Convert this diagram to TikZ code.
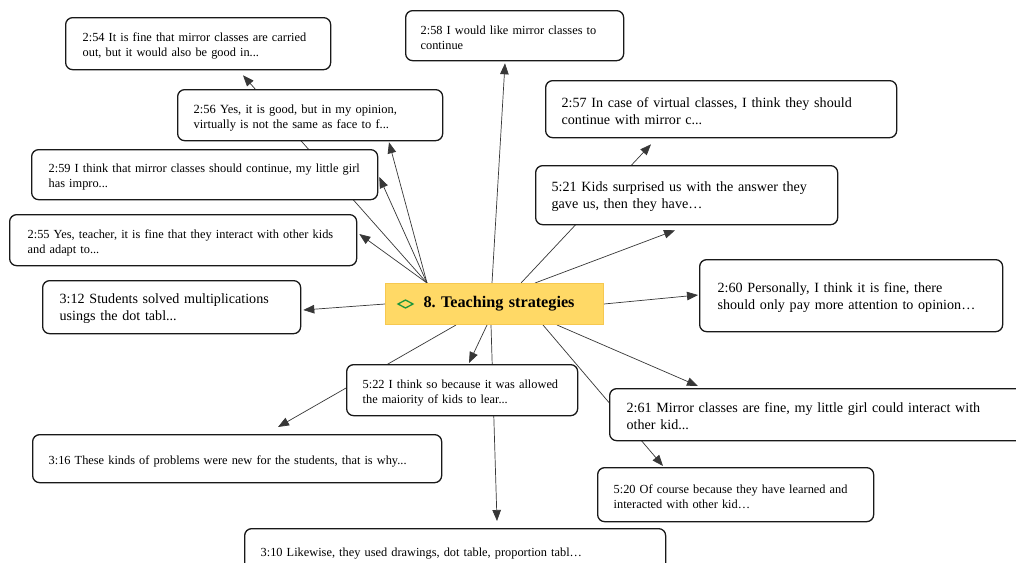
\documentclass[tikz,border=0pt]{standalone}
\usepackage{fontspec}
\setmainfont{Liberation Serif}
\usetikzlibrary{arrows.meta,calc}
\pgfdeclarelayer{paper}
\pgfdeclarelayer{links}
\pgfsetlayers{paper,links,main}

\definecolor{boxline}{RGB}{25,25,25}
\definecolor{linkline}{RGB}{55,55,55}
\definecolor{hubfill}{RGB}{255,217,102}
\definecolor{hubline}{RGB}{246,200,80}
\definecolor{codegreen}{RGB}{30,150,60}

\tikzset{
  quote/.style={draw=boxline, line width=1.3pt, rounded corners=7pt, fill=white,
    anchor=north west, align=left, inner ysep=0pt, text=black,
    execute at begin node={\rule{0pt}{13.5pt}}},
  qsmall/.style={font=\fontsize{12.35}{15}\selectfont},
  qmid/.style={font=\fontsize{12.5}{15}\selectfont},
  qlarge/.style={font=\fontsize{14.1}{17}\selectfont},
  hubbox/.style={draw=hubline, line width=1pt, fill=hubfill, anchor=north west,
    align=left, inner ysep=0pt, font=\fontsize{16.2}{19}\selectfont\bfseries},
  link/.style={draw=linkline, line width=0.7pt, -{Triangle[length=11pt,width=8.5pt]}},
}

\begin{document}
\frenchspacing
\begin{tikzpicture}[x=1pt,y=-1pt]
\useasboundingbox (0,0) rectangle (1016,562);
\begin{pgfonlayer}{paper}
  \fill[white] (0,0) rectangle (1016,562);
\end{pgfonlayer}
\clip (0,0) rectangle (1016,562);

% central code
\node[hubbox, text width=142pt, inner xsep=38pt, minimum height=41pt] (hub) at (385,283)
  {\mbox{8. Teaching strategies}};
\draw[codegreen, line width=1.3pt, line join=miter]
  ($(hub.west)+(13,0)$) -- ++(7.5,-4) -- ++(7.5,4) -- ++(-7.5,4) -- cycle;

% quotations
\node[quote, qsmall, text width=231pt, inner xsep=17pt, minimum height=52pt] (q254) at (65,17)
  {\mbox{2:54 It is fine that mirror classes are carried}\\\mbox{out, but it would also be good in...}};
\node[quote, qsmall, text width=188pt, inner xsep=15pt, minimum height=50pt] (q258) at (405,10)
  {\mbox{2:58 I would like mirror classes to}\\\mbox{continue}};
\node[quote, qmid, text width=233pt, inner xsep=16pt, minimum height=51pt] (q256) at (177,89)
  {\mbox{2:56 Yes, it is good, but in my opinion,}\\\mbox{virtually is not the same as face to f...}};
\node[quote, qlarge, text width=319pt, inner xsep=16pt, minimum height=57pt] (q257) at (545,80)
  {\mbox{2:57 In case of virtual classes, I think they should}\\\mbox{continue with mirror c...}};
\node[quote, qsmall, text width=312pt, inner xsep=17pt, minimum height=50pt] (q259) at (31,149)
  {\mbox{2:59 I think that mirror classes should continue, my little girl}\\\mbox{has impro...}};
\node[quote, qlarge, text width=270pt, inner xsep=16pt, minimum height=59pt] (q521) at (535,165)
  {\mbox{5:21 Kids surprised us with the answer they}\\\mbox{gave us, then they have…}};
\node[quote, qsmall, text width=311pt, inner xsep=18pt, minimum height=51pt] (q255) at (9,214)
  {\mbox{2:55 Yes, teacher, it is fine that they interact with other kids}\\\mbox{and adapt to...}};
\node[quote, qlarge, text width=224pt, inner xsep=17pt, minimum height=53pt] (q312) at (42,280)
  {\mbox{3:12 Students solved multiplications}\\\mbox{usings the dot tabl...}};
\node[quote, qlarge, text width=267pt, inner xsep=18pt, minimum height=72pt] (q260) at (699,259)
  {\mbox{2:60 Personally, I think it is fine, there}\\\mbox{should only pay more attention to opinion…}};
\node[quote, qsmall, text width=199pt, inner xsep=16pt, minimum height=51pt] (q522) at (346,364)
  {\mbox{5:22 I think so because it was allowed}\\\mbox{the maiority of kids to lear...}};
\node[quote, qlarge, text width=416pt, inner xsep=17pt, minimum height=52pt] (q261) at (609,388)
  {\mbox{2:61 Mirror classes are fine, my little girl could interact with}\\\mbox{other kid...}};
\node[quote, qsmall, text width=377pt, inner xsep=16pt, minimum height=48pt] (q316) at (32,434)
  {\mbox{3:16 These kinds of problems were new for the students, that is why...}};
\node[quote, qsmall, text width=244pt, inner xsep=16pt, minimum height=54pt] (q520) at (597,467)
  {\mbox{5:20 Of course because they have learned and}\\\mbox{interacted with other kid…}};
\node[quote, qsmall, text width=389pt, inner xsep=16pt, minimum height=44pt] (q310) at (244,528)
  {\mbox{3:10 Likewise, they used drawings, dot table, proportion tabl…}};

% links from the code to its quotations, kept beneath the boxes
\begin{pgfonlayer}{links}
  \draw[link] ($(hub.north west)+(42,0)$)  -- ($(q254.south west)+(178,5)$);
  \draw[link] ($(hub.north west)+(42,0)$)  -- ($(q256.south west)+(212,1)$);
  \draw[link] ($(hub.north west)+(42,0)$)  -- ($(q259.north east)+(1,28)$);
  \draw[link] ($(hub.north west)+(42,0)$)  -- ($(q255.north east)+(2,20)$);
  \draw[link] ($(hub.north west)+(107,0)$) -- ($(q258.south west)+(100,2)$);
  \draw[link] ($(hub.north west)+(136,0)$) -- ($(q257.south west)+(106,6)$);
  \draw[link] ($(hub.north west)+(150,0)$) -- ($(q521.south west)+(140,5)$);
  \draw[link] (hub.east)                    -- ($(q260.north west)+(-1,36)$);
  \draw[link] ($(hub.south west)+(172,0)$) -- ($(q261.north west)+(89,-2)$);
  \draw[link] ($(hub.south west)+(158,0)$) -- ($(q520.north west)+(66,-1)$);
  \draw[link] ($(hub.south west)+(106,0)$) -- ($(q310.north west)+(253,-7)$);
  \draw[link] ($(hub.south west)+(102,0)$) -- ($(q522.north west)+(123,-1)$);
  \draw[link] ($(hub.south west)+(71,0)$)  -- ($(q316.north west)+(246,-7)$);
  \draw[link] (hub.west)                    -- ($(q312.north east)+(2,30)$);
\end{pgfonlayer}
\end{tikzpicture}
\end{document}
